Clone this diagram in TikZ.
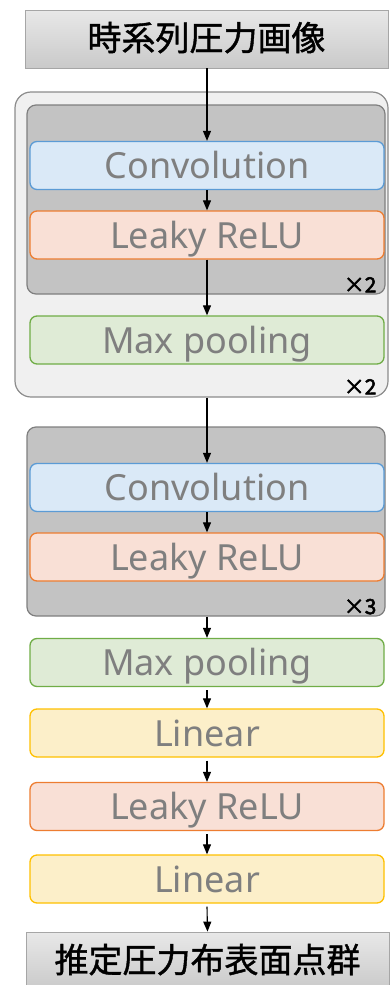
\documentclass[tikz,border=0pt]{standalone}
\usepackage{fontspec}
\setmainfont{Noto Sans}
\newfontfamily\cjk[FakeBold=1.2]{Noto Sans CJK JP}
\newfontfamily\cjkmark[FakeBold=2.5]{Noto Sans CJK JP}
\usetikzlibrary{arrows.meta}
\definecolor{convfill}{HTML}{DAE9F7}
\definecolor{convline}{HTML}{5B9BD5}
\definecolor{relufill}{HTML}{F9E0D6}
\definecolor{reluline}{HTML}{ED7D31}
\definecolor{poolfill}{HTML}{DFEBD6}
\definecolor{poolline}{HTML}{70AD47}
\definecolor{linfill}{HTML}{FCEFC9}
\definecolor{linline}{HTML}{FFC000}
\definecolor{labeltext}{HTML}{7F7F7F}
\definecolor{groupfill}{HTML}{C3C3C3}
\definecolor{groupline}{HTML}{7F7F7F}
\definecolor{outerfill}{HTML}{F0F0F0}
\definecolor{outerline}{HTML}{8C8C8C}
\begin{document}
\begin{tikzpicture}[x=1pt,y=-1pt,
  layer/.style={draw, rounded corners=7pt, line width=1.3pt,
    minimum width=354pt, minimum height=48pt, inner sep=0pt,
    text=labeltext, font=\fontsize{36}{36}\selectfont,
    text height=26pt, text depth=0pt},
  conv/.style={layer, fill=convfill, draw=convline},
  relu/.style={layer, fill=relufill, draw=reluline},
  pool/.style={layer, fill=poolfill, draw=poolline},
  lin/.style={layer, fill=linfill, draw=linline},
  terminal/.style={draw=gray!70, line width=0.8pt, top color=gray!18, bottom color=gray!42,
    minimum width=363pt, minimum height=58pt, inner sep=0pt,
    font=\cjk\fontsize{34}{34}\selectfont, text height=26pt, text depth=3pt},
  group/.style={draw=groupline, fill=groupfill, rounded corners=9pt, line width=1.2pt},
  outer/.style={draw=outerline, fill=outerfill, rounded corners=16pt, line width=1.2pt},
  times/.style={font=\cjkmark\fontsize{21}{21}\selectfont, anchor=south east, inner sep=0pt},
  flow/.style={-{Triangle[width=8pt,length=10pt]}, line width=1.1pt, black}
]
\useasboundingbox (0,0) rectangle (390,985);

% repeated feature-extraction block
\node[outer, minimum width=373pt, minimum height=305pt, inner sep=0pt] (outer) at (201.5,244.5) {};
\node[group, minimum width=358pt, minimum height=189pt, inner sep=0pt] (g1) at (206,199.5) {};
\node[group, minimum width=358pt, minimum height=189pt, inner sep=0pt] (g2) at (206,521.5) {};

% input / output
\node[terminal] (in) at (206.5,39) {時系列圧力画像};
\node[terminal] (out) at (207.5,961) {推定圧力布表面点群};

% layers
\node[conv] (c1) at (207,165.5) {Convolution};
\node[relu] (r1) at (207,235) {Leaky ReLU};
\node[pool] (p1) at (207,340) {Max pooling};
\node[conv] (c2) at (207,487.5) {Convolution};
\node[relu] (r2) at (207,557) {Leaky ReLU};
\node[pool] (p2) at (207,662.5) {Max pooling};
\node[lin] (l1) at (207,733) {Linear};
\node[relu] (r3) at (207,806.5) {Leaky ReLU};
\node[lin] (l2) at (207,879) {Linear};

% repetition counts
\node[times] (n1) at ([xshift=-9pt,yshift=2pt]g1.south east) {×2};
\node[times] (n2) at ([xshift=-12pt,yshift=3pt]outer.south east) {×2};
\node[times] (n3) at ([xshift=-9pt,yshift=2pt]g2.south east) {×3};

% data flow
\draw[flow] (in.south -| c1.north) -- (c1.north);
\draw[flow] (c1.south) -- (r1.north);
\draw[flow] (r1.south) -- (p1.north);
\draw[flow] (outer.south -| c2.north) -- (c2.north);
\draw[flow] (c2.south) -- (r2.north);
\draw[flow] (g2.south -| p2.north) -- (p2.north);
\draw[flow] ([yshift=-3pt]p2.south) -- (l1.north);
\draw[flow] ([yshift=-3pt]l1.south) -- (r3.north);
\draw[flow] ([yshift=-3pt]r3.south) -- (l2.north);
\draw[flow] ([yshift=-3pt]l2.south) -- (out.north);
\end{tikzpicture}
\end{document}
